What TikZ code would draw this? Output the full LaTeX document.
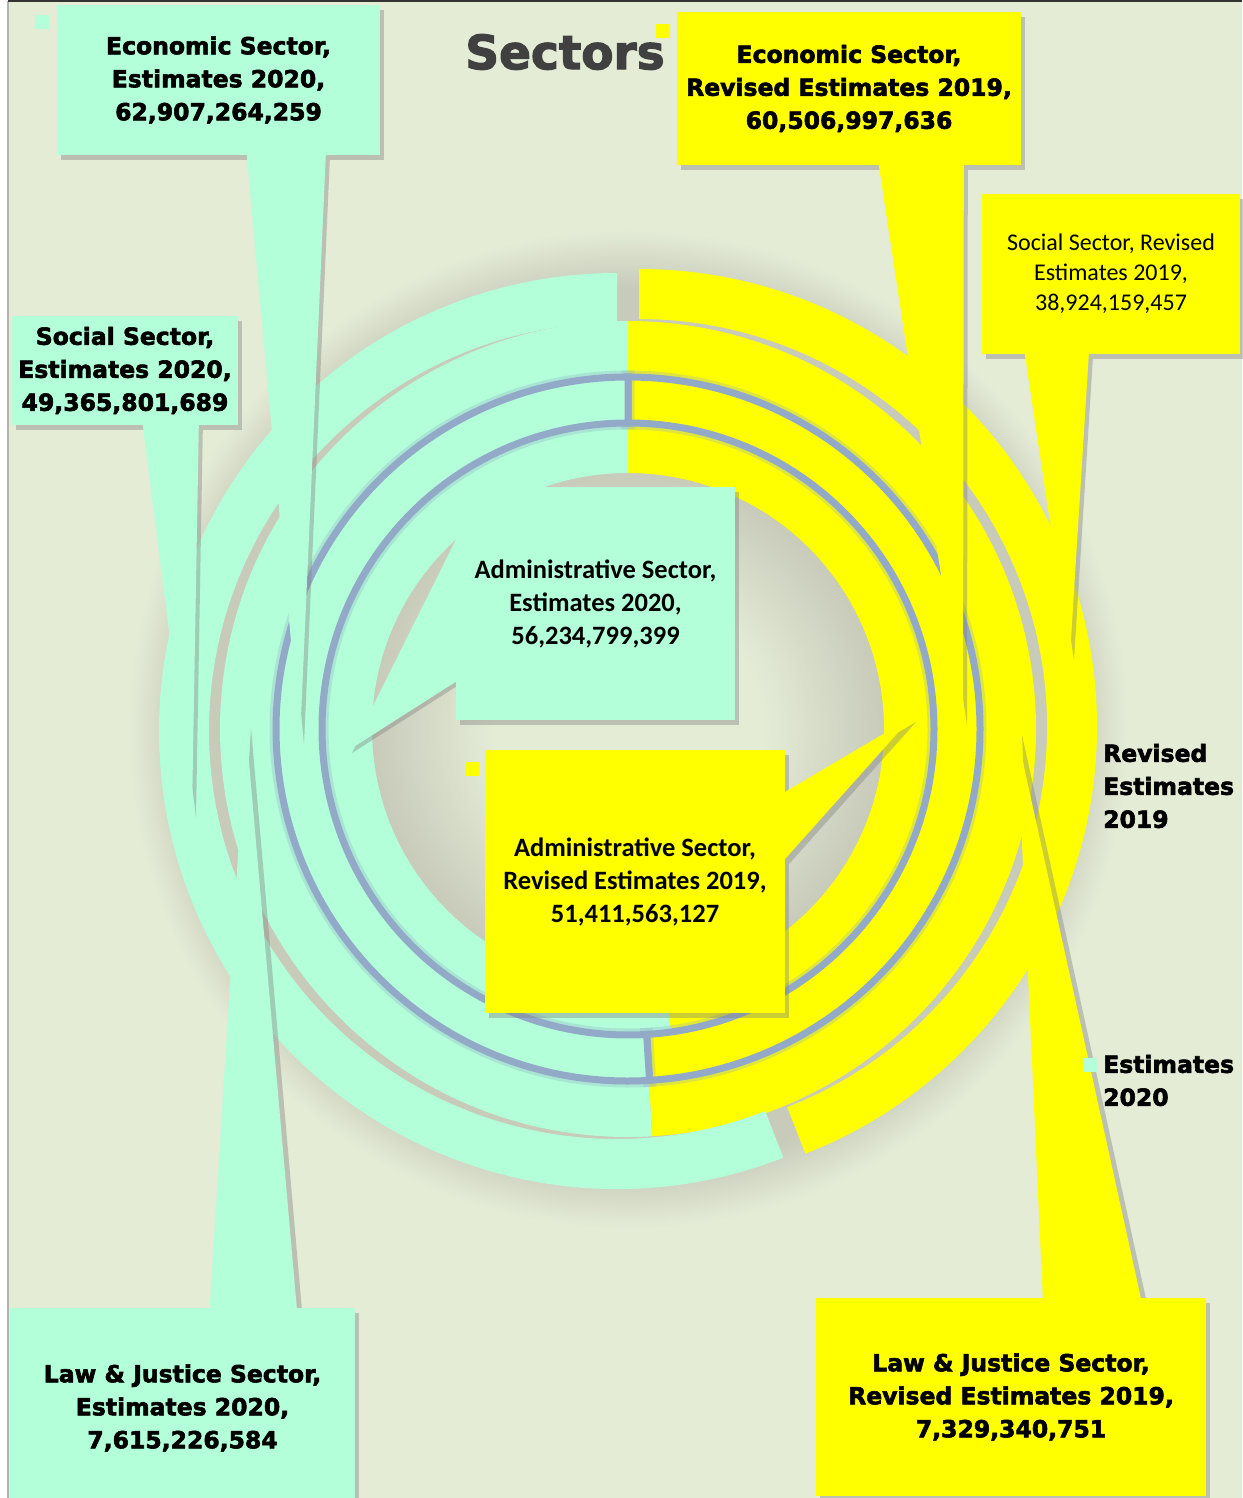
\documentclass[tikz,border=0pt]{standalone}
\usepackage{fontspec}
\setmainfont{DejaVu Sans}
\newfontfamily\heavy{DejaVu Sans}[FakeBold=2.5]
\newfontfamily\calibri{Carlito}
\usetikzlibrary{shadows}

\definecolor{chartbg}{RGB}{228,236,214}
\definecolor{ringshade}{RGB}{200,202,186}
\definecolor{mint}{RGB}{179,255,217}
\definecolor{lemon}{RGB}{255,255,0}
\definecolor{glowblue}{RGB}{146,170,200}
\definecolor{titlegrey}{RGB}{64,64,64}

\pgfdeclareradialshading{HoleShade}{\pgfpoint{0bp}{0bp}}{%
  color(0bp)=(chartbg); color(13bp)=(chartbg); color(25bp)=(ringshade); color(50bp)=(ringshade)}
\pgfdeclareradialshading{HaloShade}{\pgfpoint{0bp}{0bp}}{%
  color(0bp)=(ringshade); color(22bp)=(ringshade); color(25bp)=(chartbg); color(50bp)=(chartbg)}

\begin{document}
\begin{tikzpicture}[x=1pt, y=-1pt,
    Drop/.style={drop shadow={shadow xshift=4pt, shadow yshift=-5pt, opacity=.4}},
    SideDrop/.style={drop shadow={shadow xshift=5pt, shadow yshift=0pt, opacity=.4}},
    DownDrop/.style={drop shadow={shadow xshift=0pt, shadow yshift=-5pt, opacity=.4}},
    MintBox/.style={fill=mint, Drop, align=center, inner sep=0pt},
    LemonBox/.style={fill=lemon, Drop, align=center, inner sep=0pt},
    BlackLabel/.style={font=\heavy\fontsize{23.5}{33}\selectfont\bfseries},
    CalLabel/.style={font=\calibri\fontsize{26.5}{33}\selectfont\bfseries},
    KeyBox/.style={minimum size=14pt, inner sep=0pt},
  ]
  \useasboundingbox (0,0) rectangle (1242,1498);
  \fill[white] (0,0) rectangle (1242,1498);
  \fill[chartbg] (8,1) rectangle (1242,1498);
  \draw[black!30, line width=1.2pt] (8,1) -- (8,1498);
  \draw[black!80, line width=2pt] (8,1) -- (1242,1);

  % doughnut: Admin, L&J, Social (exploded), then Economic with its glow
  \coordinate (C) at (628,729);
  \coordinate (CY) at (639,727);
  \coordinate (CM) at (617,731);
  \shade[shading=HaloShade] (C) circle (500);
  \shade[shading=HoleShade] (C) circle (257);
  \foreach \cen/\ri/\ro/\col/\from/\to in {C/256/306/lemon/-90/81.9, C/256/306/mint/81.9/270,
      C/352/408/lemon/-90/86.6, C/352/408/mint/86.6/270,
      CY/408/458/lemon/-90/68.7, CM/408/458/mint/68.7/270}
    \fill[\col] ([shift={(\from:\ro)}]\cen) arc[start angle=\from, end angle=\to, radius=\ro]
      -- ([shift={(\to:\ri)}]\cen) arc[start angle=\to, end angle=\from, radius=\ri] -- cycle;
  \foreach \col/\from/\to in {lemon/-90/86.5, mint/86.5/270}
    \filldraw[fill=\col, draw=glowblue, line width=7pt,
        preaction={draw=glowblue, line width=13pt, opacity=.3}]
      ([shift={(\from:352)}]C) arc[start angle=\from, end angle=\to, radius=352]
      -- ([shift={(\to:306)}]C) arc[start angle=\to, end angle=\from, radius=306] -- cycle;

  % Estimates 2020 call-outs
  \node[MintBox, BlackLabel, minimum width=323, minimum height=150] (E20) at (218.5,80)
    {Economic Sector,\\Estimates 2020,\\62,907,264,259};
  \coordinate (E20tip) at (300,740);
  \fill[mint, Drop] ([xshift=190pt]E20.south west) -- (E20tip) -- ([xshift=269pt]E20.south west) -- cycle;

  \node[MintBox, BlackLabel, minimum width=226, minimum height=109] (S20) at (125,370.5)
    {Social Sector,\\Estimates 2020,\\49,365,801,689};
  \coordinate (S20tip) at (192,812);
  \fill[mint, Drop] ([xshift=131pt]S20.south west) -- (S20tip) -- ([xshift=187pt]S20.south west) -- cycle;

  \node[MintBox, CalLabel, minimum width=279, minimum height=233] (A20) at (595.5,603.5)
    {Administrative Sector,\\Estimates 2020,\\56,234,799,399};
  \coordinate (A20tip) at (352,748);
  \fill[mint, DownDrop] ([yshift=-53pt]A20.north west) -- (A20tip) -- ([yshift=-195pt]A20.north west) -- cycle;

  \node[MintBox, BlackLabel, minimum width=345, minimum height=200] (L20) at (182.5,1408)
    {Law \& Justice Sector,\\Estimates 2020,\\7,615,226,584};
  \coordinate (L20tip) at (246,728);
  \fill[mint, SideDrop] ([xshift=200pt]L20.north west) -- (L20tip) -- ([xshift=287pt]L20.north west) -- cycle;

  % Revised Estimates 2019 call-outs
  \node[LemonBox, BlackLabel, minimum width=344, minimum height=153] (E19) at (849,88.5)
    {Economic Sector,\\Revised Estimates 2019,\\60,506,997,636};
  \coordinate (E19tip) at (963,720);
  \fill[lemon, Drop] ([xshift=202pt]E19.south west) -- (E19tip) -- ([xshift=287pt]E19.south west) -- cycle;

  \node[LemonBox, font=\calibri\fontsize{24}{30}\selectfont, minimum width=258, minimum height=160] (S19) at (1111,274)
    {Social Sector, Revised\\Estimates 2019,\\38,924,159,457};
  \coordinate (S19tip) at (1070,655);
  \fill[lemon, Drop] ([xshift=43pt]S19.south west) -- (S19tip) -- ([xshift=107pt]S19.south west) -- cycle;

  \node[LemonBox, CalLabel, minimum width=300, minimum height=263] (A19) at (635,881.5)
    {Administrative Sector,\\Revised Estimates 2019,\\51,411,563,127};
  \coordinate (A19tip) at (912,717);
  \fill[lemon, Drop] ([yshift=-42pt]A19.north east) -- (A19tip) -- ([yshift=-109pt]A19.north east) -- cycle;

  \node[LemonBox, BlackLabel, minimum width=390, minimum height=198] (L19) at (1011,1397)
    {Law \& Justice Sector,\\Revised Estimates 2019,\\7,329,340,751};
  \coordinate (L19tip) at (1017,735);
  \fill[lemon, SideDrop] ([xshift=227pt]L19.north west) -- (L19tip) -- ([xshift=325pt]L19.north west) -- cycle;

  % label keys, title and legend
  \node[KeyBox, fill=mint] (E20key) at (41.5,22) {};
  \node[KeyBox, fill=lemon] (E19key) at (662.5,31) {};
  \node[KeyBox, fill=lemon] (A19key) at (472.5,769) {};
  \node[font=\heavy\fontsize{47}{50}\selectfont\bfseries, text=titlegrey] (Title) at (565,52) {Sectors};
  \node[BlackLabel, align=left, anchor=west, inner sep=0pt] (Rev19) at (1103,786) {Revised\\Estimates\\2019};
  \node[KeyBox, fill=mint] (Est20key) at (1090,1064.5) {};
  \node[BlackLabel, align=left, anchor=west, inner sep=0pt] (Est20) at (1103,1080.5) {Estimates\\2020};
\end{tikzpicture}
\end{document}
